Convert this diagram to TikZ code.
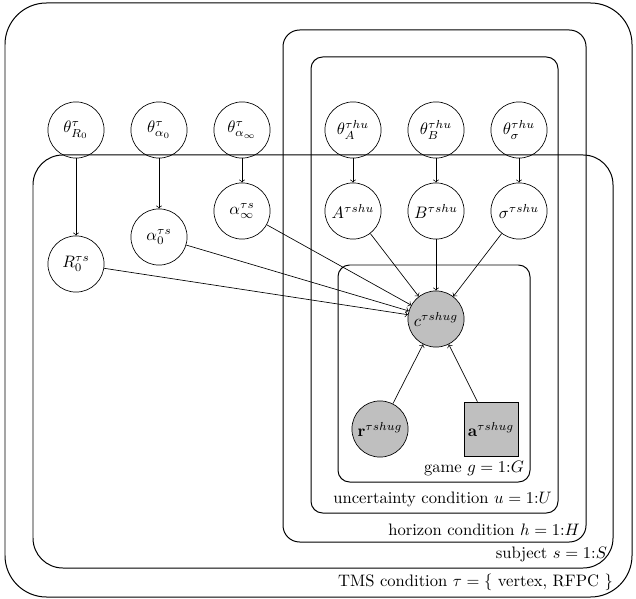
\documentclass[tikz,border=0pt]{standalone}
\usepackage{amsmath}
\usepackage{amssymb}
\usepackage{xcolor}
\usepackage{tikz}

\begin{document}
\begin{tikzpicture}[x=0.0212cm, y=-0.0212cm, >=to,
                    latent/.style={circle, draw, minimum size=1.19cm, inner sep=0pt},
                    obs/.style={latent, fill=gray!50},
                    detbox/.style={rectangle, draw, fill=gray!50, minimum size=1.14cm, inner sep=0pt},
                    platebox/.style={draw, line width=0.6pt},
                    platelabel/.style={anchor=south east, inner sep=3.5pt}]
  \useasboundingbox (0,0) rectangle (636,599);

  % plates
  \draw[platebox, rounded corners=25] (5,3) rectangle (632,597);
  \draw[platebox, rounded corners=18] (33,155) rectangle (613,568);
  \draw[platebox, rounded corners=10] (283,30) rectangle (586,542);
  \draw[platebox, rounded corners=7] (311,57) rectangle (558,513);
  \draw[platebox, rounded corners=7] (338,265) rectangle (530,482);

  \node[platelabel] (lblG) at (530,482) {game \(g = 1{:}G\)};
  \node[platelabel] (lblU) at (558,513) {uncertainty condition \(u = 1{:}U\)};
  \node[platelabel] (lblH) at (586,542) {horizon condition \(h = 1{:}H\)};
  \node[platelabel] (lblS) at (613,568) {subject \(s = 1{:}S\)};
  \node[platelabel] (lblT) at (619,597) {TMS condition \(\tau = \{\) vertex, RFPC \(\}\)};

  % hyperparameters
  \node[latent] (thR) at (76,130) {\(\theta^{\tau}_{R_0}\)};
  \node[latent] (tha) at (159,130) {\(\theta^{\tau}_{\alpha_0}\)};
  \node[latent] (thi) at (242,130) {\(\theta^{\tau}_{\alpha_\infty}\)};
  \node[latent] (thA) at (353,130) {\(\theta^{\tau hu}_{A}\)};
  \node[latent] (thB) at (436,130) {\(\theta^{\tau hu}_{B}\)};
  \node[latent] (ths) at (519,130) {\(\theta^{\tau hu}_{\sigma}\)};

  % parameters
  \node[latent] (R) at (76,264) {\(R_0^{\tau s}\)};
  \node[latent] (a0) at (159,237) {\(\alpha_0^{\tau s}\)};
  \node[latent] (ai) at (242,211) {\(\alpha_\infty^{\tau s}\)};
  \node[latent] (A) at (353,211) {\(A^{\tau shu}\)};
  \node[latent] (B) at (436,211) {\(B^{\tau shu}\)};
  \node[latent] (sg) at (519,211) {\(\sigma^{\tau shu}\)};

  % data
  \node[obs] (c) at (436,319) {\(c^{\tau shug}\)};
  \node[obs] (r) at (380,429) {\(\mathbf{r}^{\tau shug}\)};
  \node[detbox] (act) at (491,429) {\(\mathbf{a}^{\tau shug}\)};

  \draw[->] (thR) -- (R);
  \draw[->] (tha) -- (a0);
  \draw[->] (thi) -- (ai);
  \draw[->] (thA) -- (A);
  \draw[->] (thB) -- (B);
  \draw[->] (ths) -- (sg);
  \draw[->] (R) -- (c);
  \draw[->] (a0) -- (c);
  \draw[->] (ai) -- (c);
  \draw[->] (A) -- (c);
  \draw[->] (B) -- (c);
  \draw[->] (sg) -- (c);
  \draw[->] (r) -- (c);
  \draw[->] (act) -- (c);
\end{tikzpicture}
\end{document}
